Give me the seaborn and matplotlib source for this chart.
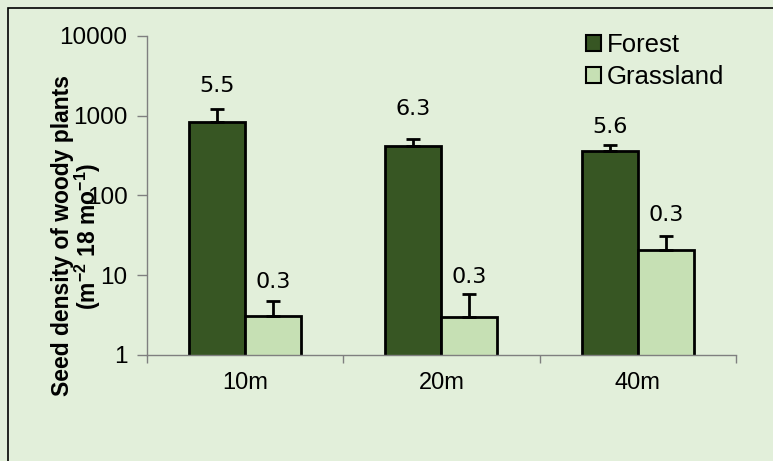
import matplotlib
matplotlib.use("Agg")
import matplotlib.pyplot as plt
from matplotlib.patches import Rectangle, Patch
import numpy as np
import pandas as pd
import seaborn as sns

# Seed density data (log-scaled bars with upward standard-error whiskers)
distances = ["10m", "20m", "40m"]
forest = [845, 420, 365]
grassland = [3.1, 3.0, 21]
forest_err = [355, 95, 65]
grassland_err = [1.7, 2.8, 10.3]
forest_labels = ["5.5", "6.3", "5.6"]
grassland_labels = ["0.3", "0.3", "0.3"]
yticks = [1, 10, 100, 1000, 10000]

# Gap (points) between each whisker tip and its annotation
forest_label_gap = [10, 14.5, 6]
grassland_label_gap = [6, 5, 7.5]

habitats = ["Forest", "Grassland"]
colors = {"Forest": "#375623", "Grassland": "#C6E0B4"}
bg = "#E2EFDA"

df = pd.DataFrame({
    "distance": distances * 2,
    "habitat": ["Forest"] * 3 + ["Grassland"] * 3,
    "density": forest + grassland,
    "err": forest_err + grassland_err,
    "label": forest_labels + grassland_labels,
})
gaps = {"Forest": forest_label_gap, "Grassland": grassland_label_gap}

sns.set_style("ticks")
plt.rcParams["font.family"] = ["Liberation Sans", "DejaVu Sans"]
plt.rcParams["text.color"] = "black"
plt.rcParams["axes.labelcolor"] = "black"
plt.rcParams["xtick.labelcolor"] = "black"
plt.rcParams["ytick.labelcolor"] = "black"

fig = plt.figure(figsize=(7.73, 4.61), dpi=100, facecolor=bg)
ax = fig.add_axes([0.190, 0.230, 0.762, 0.692], facecolor=bg)
ax.set_yscale("log")

sns.barplot(data=df, x="distance", y="density", hue="habitat",
            order=distances, hue_order=habitats, palette=colors,
            width=0.57, gap=0, errorbar=None, edgecolor="black",
            linewidth=2.0, saturation=1, legend=False, ax=ax)

# Upward whiskers and annotations, located from the drawn bars
for hab, cont in zip(habitats, ax.containers):
    sub = df[df["habitat"] == hab].set_index("distance").loc[distances]
    for bar, (_, row), gap in zip(cont, sub.iterrows(), gaps[hab]):
        xc = bar.get_x() + bar.get_width() / 2
        top = bar.get_height()
        ax.errorbar(xc, top, yerr=[[0], [row["err"]]], fmt="none",
                    ecolor="black", elinewidth=2.0, capsize=5, capthick=2.0,
                    zorder=3)
        ax.annotate(row["label"], (xc, top + row["err"]),
                    xytext=(0, gap), textcoords="offset points",
                    ha="center", va="bottom", fontsize=16,
                    family="DejaVu Sans", color="black")

ax.set_ylim(1, 10000)
ax.set_xlim(-0.5, 2.5)
ax.set_yticks(yticks)
ax.set_yticklabels([str(v) for v in yticks])
ax.yaxis.set_minor_locator(matplotlib.ticker.NullLocator())
ax.set_xticks(range(len(distances)))
ax.set_xticklabels(distances)
ax.set_xticks([-0.5, 0.5, 1.5, 2.5], minor=True)
ax.tick_params(axis="x", which="major", length=0, labelsize=17, pad=12,
               labelcolor="black")
ax.tick_params(axis="x", which="minor", length=6, width=1, color="#7F7F7F")
ax.tick_params(axis="y", length=7, width=1, color="#7F7F7F", labelsize=17.5,
               pad=7, labelcolor="black")

for side in ["top", "right"]:
    ax.spines[side].set_visible(False)
for side in ["left", "bottom"]:
    ax.spines[side].set_color("#7F7F7F")
    ax.spines[side].set_linewidth(1.0)

ax.set_xlabel("")
ax.set_ylabel("Seed density of woody plants\n(m$^{\\mathregular{-2}}$ 18 mo$^{\\mathregular{-1}}$)",
              fontsize=16.5, fontweight="bold", linespacing=0.95, color="black")
ax.yaxis.set_label_coords(-0.075, 0.373)

handles = [Patch(facecolor=colors[h], edgecolor="black", linewidth=1.5, label=h)
           for h in habitats]
leg = ax.legend(handles=handles, loc="upper right", bbox_to_anchor=(0.997, 1.04),
                frameon=False, fontsize=18.5, handlelength=0.58, handleheight=0.58,
                handletextpad=0.2, labelspacing=0.3, borderaxespad=0)
for t in leg.get_texts():
    t.set_color("black")

# Chart-area border
fig.patches.append(Rectangle((8 / 773, -0.1), 1.0, 1 - 8 / 461 + 0.1,
                             transform=fig.transFigure, fill=False,
                             edgecolor="black", linewidth=1.2, zorder=10))

fig.savefig("out.png", dpi=100, facecolor=bg)
